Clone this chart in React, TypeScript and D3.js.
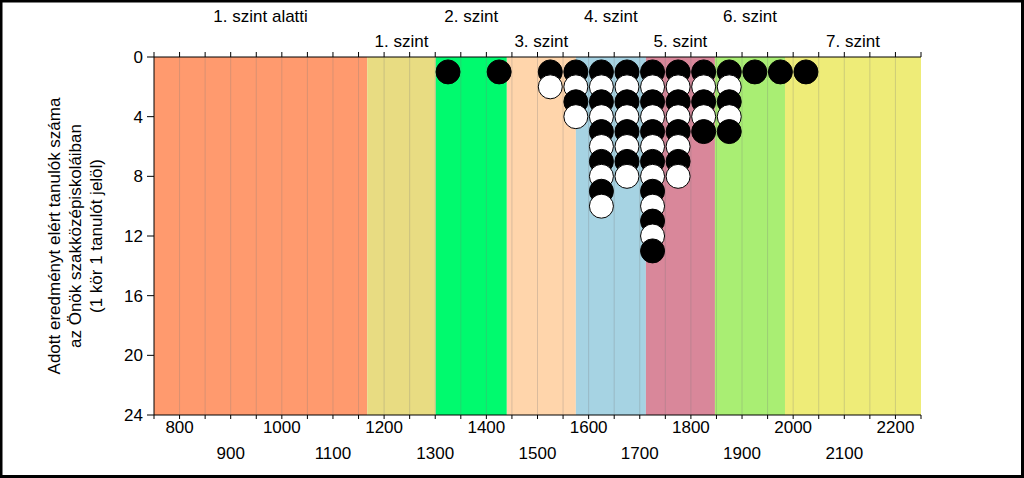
import React from "react";
import * as d3 from "d3";

const levelNames = ["1. szint alatti", "1. szint", "2. szint", "3. szint", "4. szint", "5. szint", "6. szint", "7. szint"];
const levelBounds = [750, 1167, 1301, 1440, 1575, 1712, 1847, 1984, 2250];
const levelColors = ["#FF9A6E", "#E8DC82", "#00FA6E", "#FFD5AB", "#A6D3E3", "#D9879A", "#A9EE73", "#EEEC78"];

const scoreBins = [1325, 1425, 1525, 1575, 1625, 1675, 1725, 1775, 1825, 1875, 1925, 1975, 2025];
const studentCounts = [1, 1, 2, 4, 10, 8, 13, 8, 5, 5, 1, 1, 1];

const xTickLabels = [800, 900, 1000, 1100, 1200, 1300, 1400, 1500, 1600, 1700, 1800, 1900, 2000, 2100, 2200];
const yTickLabels = [0, 4, 8, 12, 16, 20, 24];
const yTitleLines = ["Adott eredményt elért tanulók száma", "az Önök szakközépiskoláiban", "(1 kör 1 tanulót jelöl)"];

const W = 1024;
const H = 478;
const FONT = "Arial, 'Liberation Sans', sans-serif";
const FS = 17;

export default function App() {
  const x = d3.scaleLinear().domain([750, 2250]).range([154, 921]);
  const y = d3.scaleLinear().domain([0, 24]).range([57, 415]);
  const gridVals = d3.range(750, 2251, 50);
  const r = 12;

  const dots: { v: number; k: number }[] = [];
  scoreBins.forEach((v, i) => {
    for (let k = 1; k <= studentCounts[i]; k++) dots.push({ v, k });
  });

  return (
    <div style={{ position: "fixed", left: 0, top: 0 }}>
      <svg width={W} height={H} style={{ display: "block", fontFamily: FONT }}>
        <rect x={0} y={0} width={W} height={H} fill="#fff" />
        {levelNames.map((n, i) => (
          <rect
            key={n}
            x={x(levelBounds[i])}
            y={y(0)}
            width={x(levelBounds[i + 1]) - x(levelBounds[i])}
            height={y(24) - y(0)}
            fill={levelColors[i]}
          />
        ))}
        {gridVals.slice(1, -1).map((v) => (
          <line key={v} x1={x(v)} x2={x(v)} y1={y(0)} y2={y(24)} stroke="#7a7a7a" strokeOpacity={0.28} strokeWidth={1} />
        ))}
        {levelNames.map((n, i) => (
          <text
            key={"l" + n}
            x={(x(levelBounds[i]) + x(levelBounds[i + 1])) / 2}
            y={i % 2 === 0 ? 22 : 47}
            textAnchor="middle"
            fontSize={FS}
            fill="#000"
          >
            {n}
          </text>
        ))}
        <line x1={x(750)} x2={x(2250)} y1={y(0)} y2={y(0)} stroke="#000" strokeWidth={1} />
        {gridVals.map((v) => (
          <line key={"tt" + v} x1={x(v)} x2={x(v)} y1={y(0) - 5} y2={y(0)} stroke="#000" />
        ))}
        <line x1={x(750)} x2={x(2250)} y1={y(24)} y2={y(24)} stroke="#000" strokeWidth={1} />
        {gridVals.map((v) => (
          <line key={"bt" + v} x1={x(v)} x2={x(v)} y1={y(24)} y2={y(24) + 4} stroke="#000" />
        ))}
        {xTickLabels.map((v, i) => (
          <text key={"xl" + v} x={x(v)} y={i % 2 === 0 ? 433 : 459} textAnchor="middle" fontSize={FS} fill="#000">
            {v}
          </text>
        ))}
        <line x1={x(750)} x2={x(750)} y1={y(0)} y2={y(24)} stroke="#000" strokeWidth={1} />
        {yTickLabels.map((v) => (
          <g key={"yt" + v}>
            <line x1={x(750) - 7} x2={x(750)} y1={y(v)} y2={y(v)} stroke="#000" />
            <text x={x(750) - 11} y={y(v)} dy="0.35em" textAnchor="end" fontSize={FS} fill="#000">
              {v}
            </text>
          </g>
        ))}
        <g transform={`translate(75, ${(y(0) + y(24)) / 2}) rotate(-90)`}>
          {yTitleLines.map((t, i) => (
            <text key={t} x={0} y={(i - 1) * 21} dy="0.35em" textAnchor="middle" fontSize={FS} fill="#000">
              {t}
            </text>
          ))}
        </g>
        {dots.map((d) => (
          <circle
            key={d.v + "-" + d.k}
            cx={x(d.v)}
            cy={y(d.k)}
            r={r}
            fill={d.k % 2 === 1 ? "#000" : "#fff"}
            stroke="#000"
            strokeWidth={1}
          />
        ))}
        <rect x={1} y={1} width={W - 2.5} height={H - 2.5} fill="none" stroke="#000" strokeWidth={3} />
      </svg>
    </div>
  );
}
